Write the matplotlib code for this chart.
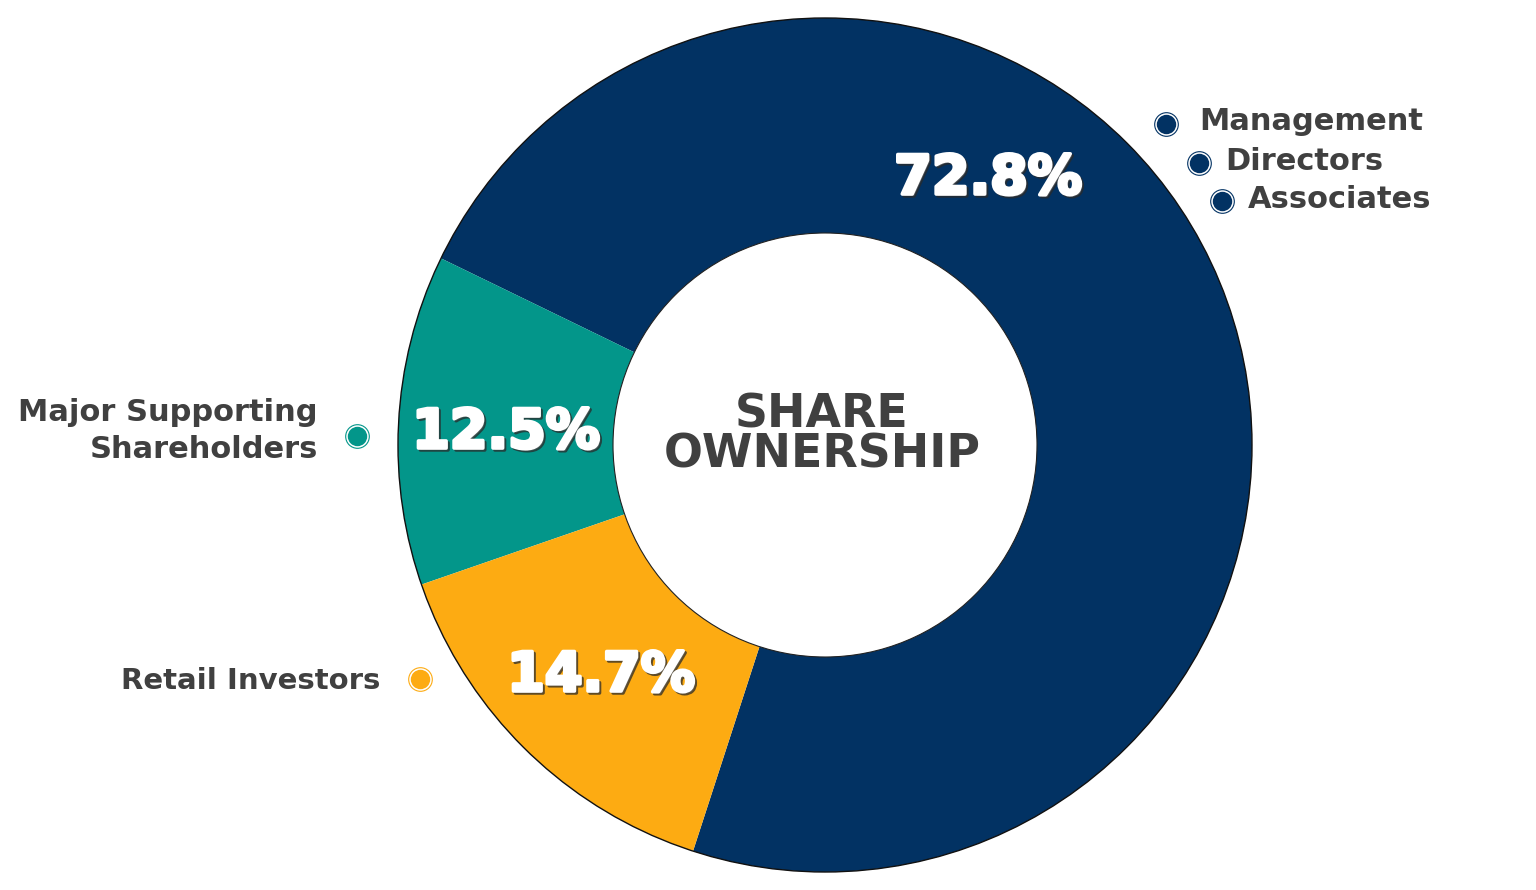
import matplotlib.pyplot as plt
import matplotlib.patheffects as pe
from matplotlib.patches import Circle

# data
groups = ['Management / Directors / Associates', 'Major Supporting Shareholders', 'Retail Investors']
shares = [72.8, 12.5, 14.7]
colors = ['#023263', '#03968A', '#FDAB12']
pct_labels = ['72.8%', '12.5%', '14.7%']
top_names = ['Management', 'Directors', 'Associates']
left_names = ['Major Supporting\nShareholders', 'Retail Investors']

W, H = 1536, 890
cx, cy = 825, 445
R_out, R_in = 427, 212
TXT = '#404040'

fig = plt.figure(figsize=(W / 100, H / 100), dpi=100)
ax = fig.add_axes([0, 0, 1, 1])
ax.set_xlim(0, W)
ax.set_ylim(0, H)
ax.set_aspect('equal')
ax.axis('off')

ax.pie(shares, colors=colors, radius=R_out, center=(cx, cy), startangle=252.0,
       counterclock=True, wedgeprops=dict(width=R_out - R_in, linewidth=0))
ax.set_xlim(0, W)
ax.set_ylim(0, H)
ax.add_patch(Circle((cx, cy), R_out, fill=False, ec='#111111', lw=1.0))
ax.add_patch(Circle((cx, cy), R_in, fill=False, ec='#222222', lw=0.8))

# percent labels
pct_pos = [(988, H - 179), (506, H - 433), (601, H - 676)]
fx = [pe.Stroke(linewidth=2.6, foreground='#2a2a2a', alpha=0.75, offset=(1.4, -1.4)),
      pe.withStroke(linewidth=2.6, foreground='white')]
for (x, y), t in zip(pct_pos, pct_labels):
    ax.text(x, y, t, ha='center', va='center', fontsize=39, fontweight='black',
            family='DejaVu Sans', color='white', path_effects=fx)

# centre title
ax.text(cx - 3, H - 435, 'SHARE\nOWNERSHIP', ha='center', va='center', fontsize=33,
        fontweight='bold', family='DejaVu Sans', color=TXT, linespacing=0.86)


def dot(x, y, c):
    ax.plot(x, y, 'o', ms=17, mfc='white', mec=c, mew=0.8)
    ax.plot(x, y, 'o', ms=14, mfc=c, mec='none')


# top-right legend-like labels
top_dots = [(1166, H - 124), (1199, H - 163), (1222, H - 201)]
top_txt = [(1199, H - 121), (1225, H - 162), (1248, H - 200)]
for (dx, dy), (tx, ty), name in zip(top_dots, top_txt, top_names):
    dot(dx, dy, colors[0])
    ax.text(tx, ty, name, ha='left', va='center', fontsize=22, fontweight='bold',
            family='DejaVu Sans', color=TXT)

# left labels
dot(357, H - 436, colors[1])
ax.text(318, H - 431, left_names[0], ha='right', va='center', fontsize=22,
        fontweight='bold', family='DejaVu Sans', color=TXT, linespacing=1.35)
dot(420, H - 679, colors[2])
ax.text(380, H - 681, left_names[1], ha='right', va='center', fontsize=21,
        fontweight='bold', family='DejaVu Sans', color=TXT)

fig.savefig('out.png', dpi=100, facecolor='white')
